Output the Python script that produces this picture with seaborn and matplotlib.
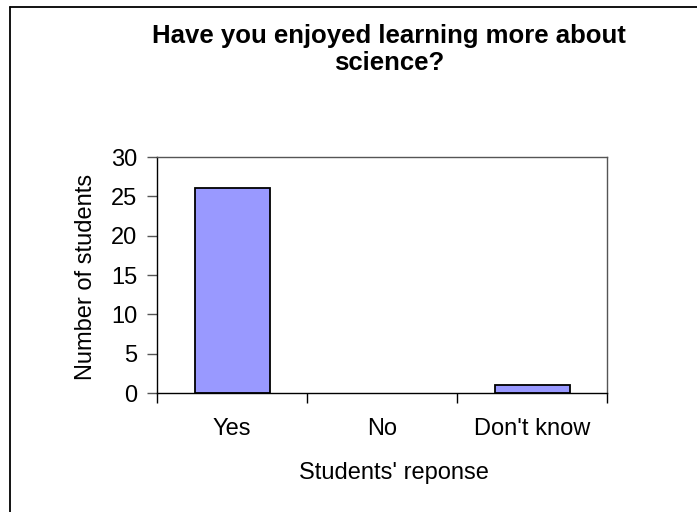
import matplotlib
matplotlib.use("Agg")
import matplotlib.pyplot as plt
from matplotlib.lines import Line2D
from matplotlib.ticker import FixedLocator
import seaborn as sns
import pandas as pd

categories = ["Yes", "No", "Don't know"]
counts = [26, 0, 1]
y_ticks = [0, 5, 10, 15, 20, 25, 30]
title_lines = ["Have you enjoyed learning more about", "science?"]

sns.set_theme(style="white")
plt.rcParams["font.family"] = ["Liberation Sans", "DejaVu Sans"]
plt.rcParams["text.color"] = "black"
plt.rcParams["axes.labelcolor"] = "black"
plt.rcParams["xtick.color"] = "black"
plt.rcParams["ytick.color"] = "black"

W, H = 697, 512
fig = plt.figure(figsize=(W / 100, H / 100), dpi=100)
ax = fig.add_axes([157 / W, 1 - 393 / H, (607 - 157) / W, (393 - 157) / H])

df = pd.DataFrame({"response": categories, "students": counts})
sns.barplot(data=df, x="response", y="students", order=categories,
            color="#9999FF", saturation=1, width=0.5,
            edgecolor="black", linewidth=1.3, ax=ax)
# empty categories show no outline
for bar in ax.patches:
    if bar.get_height() == 0:
        bar.set_linewidth(0)

ax.set_ylim(0, 30)
ax.set_xlim(-0.5, 2.5)
ax.set_yticks(y_ticks)
ax.set_yticklabels([str(t) for t in y_ticks], fontsize=17)
ax.set_xticks(range(len(categories)))
ax.set_xticklabels(categories, fontsize=17)
ax.xaxis.set_minor_locator(FixedLocator([-0.5, 0.5, 1.5, 2.5]))
ax.tick_params(axis="x", which="major", length=0, pad=18)
ax.tick_params(axis="x", which="minor", length=7, width=1, color="black",
               direction="out", bottom=True)
ax.tick_params(axis="y", which="major", length=7, width=1, color="#555555",
               direction="out", left=True, pad=7)

for side in ["left", "bottom"]:
    ax.spines[side].set_color("black")
    ax.spines[side].set_linewidth(1.0)
for side in ["top", "right"]:
    ax.spines[side].set_color("#555555")
    ax.spines[side].set_linewidth(1.0)

ax.set_xlabel("")
ax.set_ylabel("")
fig.text(394 / W, 1 - 479 / H, "Students' reponse", fontsize=17,
         ha="center", va="baseline")
fig.text(92 / W, 1 - 277 / H, "Number of students", fontsize=17,
         ha="center", va="baseline", rotation=90, rotation_mode="anchor")

for line, base in zip(title_lines, [43.5, 70]):
    fig.text(389 / W, 1 - base / H, line, ha="center", va="baseline",
             fontsize=18.5, fontweight="bold")

# chart area border (left and top edges)
fig.add_artist(Line2D([10 / W, 10 / W], [0, 1 - 7 / H], transform=fig.transFigure,
                      color="black", linewidth=1.3))
fig.add_artist(Line2D([10 / W, 1], [1 - 7 / H, 1 - 7 / H], transform=fig.transFigure,
                      color="black", linewidth=1.3))

fig.savefig("out.png", dpi=100, facecolor="white")
